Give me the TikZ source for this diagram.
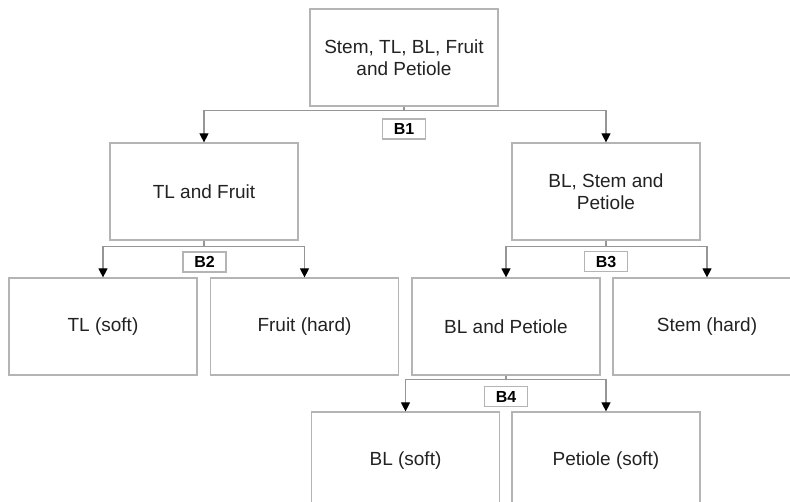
\documentclass[tikz,border=0pt]{standalone}
\usepackage{fontspec}
\setmainfont{Liberation Sans}
\usetikzlibrary{arrows.meta}
\definecolor{boxgray}{HTML}{B4B4B4}
\definecolor{linegray}{HTML}{969696}
\definecolor{txtgray}{HTML}{222222}
\tikzset{
    partbox/.style={draw=boxgray, line width=1.2pt, minimum width=188pt, minimum height=97pt,
        inner sep=0pt, align=center, text=txtgray, font=\fontsize{19}{22}\selectfont},
    splitlbl/.style={draw=boxgray, line width=1.1pt, minimum width=43pt, minimum height=20pt,
        inner sep=0pt, fill=white, font=\fontsize{16}{18}\selectfont\bfseries},
    link/.style={draw=linegray, line width=1.1pt, -{Triangle[width=9pt,length=9pt,color=black]}}
}
\begin{document}
\begin{tikzpicture}[x=1pt, y=-1pt]
        \useasboundingbox (0,0) rectangle (790,501);
        \clip (0,0) rectangle (790,501);
        % boxes
        \node[partbox] (root) at (404, 57.5) {Stem, TL, BL, Fruit\\and Petiole};
        \node[partbox] (tlfruit) at (204, 191.5) {TL and Fruit};
        \node[partbox] (blstem) at (606, 191.5) {BL, Stem and\\Petiole};
        \node[partbox] (tlsoft) at (103, 326.5) {TL (soft)};
        \node[partbox] (fruithard) at (304.5, 326.5) {Fruit (hard)};
        \node[partbox] (blpet) at (506, 326.5) {BL and Petiole};
        \node[partbox] (stemhard) at (707, 326.5) {Stem (hard)};
        \node[partbox] (blsoft) at (405.5, 460.5) {BL (soft)};
        \node[partbox] (petsoft) at (606, 460.5) {Petiole (soft)};
        % splits
        \draw[link] (root.south) -- ++(0,4) -| (tlfruit.north);
        \draw[link] (root.south) -- ++(0,4) -| (blstem.north);
        \draw[link] (tlfruit.south) -- ++(0,6) -| (tlsoft.north);
        \draw[link] (tlfruit.south) -- ++(0,6) -| (fruithard.north);
        \draw[link] (blstem.south) -- ++(0,6) -| (blpet.north);
        \draw[link] (blstem.south) -- ++(0,6) -| (stemhard.north);
        \draw[link] (blpet.south) -- ++(0,4) -| (blsoft.north);
        \draw[link] (blpet.south) -- ++(0,4) -| (petsoft.north);
        % labels
        \node[splitlbl] (b1) at (404, 129) {B1};
        \node[splitlbl] (b2) at (204.5, 262) {B2};
        \node[splitlbl] (b3) at (606, 261.5) {B3};
        \node[splitlbl] (b4) at (506, 396.5) {B4};
    \end{tikzpicture}
\end{document}
